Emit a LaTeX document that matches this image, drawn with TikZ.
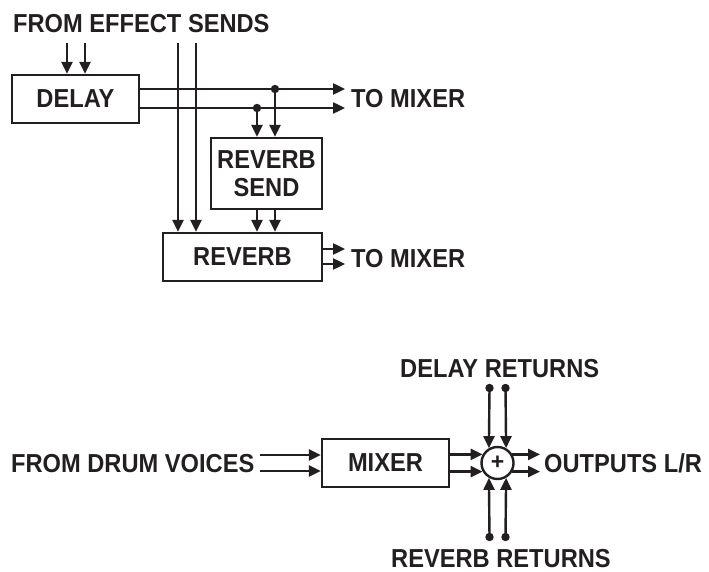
\documentclass[tikz,border=0pt]{standalone}
\usepackage{fontspec}
\setmainfont{Liberation Sans}
\newfontfamily\condfont[FakeStretch=0.91]{Liberation Sans}
\usetikzlibrary{arrows.meta,calc}
\definecolor{ink}{HTML}{231F20}
\begin{document}
\begin{tikzpicture}[x=1pt,y=-1pt,
  line width=2.4pt, draw=ink, text=ink,
  lbl/.style={font=\condfont\fontsize{26}{30}\selectfont\bfseries, inner sep=0pt, anchor=base west},
  blk/.style={draw=ink, line width=2.4pt, font=\condfont\fontsize{26}{30}\selectfont\bfseries, inner sep=0pt, align=center},
  arr/.style={-{Triangle[length=12pt,width=11pt]}},
  dotc/.style={fill=ink}]
\useasboundingbox (0,0) rectangle (709,572);
% labels
\node[lbl] (fes) at (12,33) {FROM EFFECT SENDS};
\node[lbl] (tm1) at (350,108) {TO MIXER};
\node[lbl] (tm2) at (350,267) {TO MIXER};
\node[lbl] (fdv) at (10,472) {FROM DRUM VOICES};
\node[lbl] (olr) at (543,472) {OUTPUTS L/R};
\node[lbl] (drt) at (399,377) {DELAY RETURNS};
\node[lbl] (rrt) at (390,567) {REVERB RETURNS};
% boxes
\node[blk, minimum width=127pt, minimum height=48pt] (delay) at (75.5,99) {DELAY};
\node[blk, minimum width=111pt, minimum height=71pt] (send) at (266.5,173.5) {REVERB\\[-2pt]SEND};
\node[blk, minimum width=159pt, minimum height=48pt] (reverb) at (242.5,257) {REVERB};
\node[blk, minimum width=127pt, minimum height=48pt] (mixer) at (385.5,463) {MIXER};
\node[draw=ink, line width=2.4pt, circle, inner sep=0pt, minimum size=32pt, font=\fontsize{23}{23}\selectfont\bfseries] (sum) at (497.5,463) {+};
% coordinates
\coordinate (di1) at (67,43);
\coordinate (di2) at (85,43);
\coordinate (es1) at (178,43);
\coordinate (es2) at (196,43);
\coordinate (do1) at (345,89);
\coordinate (do2) at (345,108);
\coordinate (d1) at (275,89);
\coordinate (d2) at (257,108);
\coordinate (ro1) at (345,249);
\coordinate (ro2) at (345,264);
\coordinate (fi1) at (260,455);
\coordinate (fi2) at (260,471);
\coordinate (dr1) at (489.5,388);
\coordinate (dr2) at (505.5,388);
\coordinate (rr1) at (489.5,537);
\coordinate (rr2) at (505.5,537);
% top part
\draw[arr] (di1) -- (di1 |- delay.north);
\draw[arr] (di2) -- (di2 |- delay.north);
\draw[arr] (es1) -- (es1 |- reverb.north);
\draw[arr] (es2) -- (es2 |- reverb.north);
\draw[arr] (delay.east |- do1) -- (do1);
\draw[arr] (delay.east |- do2) -- (do2);
\fill[dotc] (d1) circle (4.2pt);
\fill[dotc] (d2) circle (4.2pt);
\draw[arr] (d1) -- (d1 |- send.north);
\draw[arr] (d2) -- (d2 |- send.north);
\draw[arr] (send.south -| d1) -- (reverb.north -| d1);
\draw[arr] (send.south -| d2) -- (reverb.north -| d2);
\draw[arr] (reverb.east |- ro1) -- (ro1);
\draw[arr] (reverb.east |- ro2) -- (ro2);
% bottom part
\draw[arr] (fi1) -- (fi1 -| mixer.west);
\draw[arr] (fi2) -- (fi2 -| mixer.west);
\draw[arr] (mixer.east |- sum.150) -- (sum.150);
\draw[arr] (mixer.east |- sum.210) -- (sum.210);
\coordinate (o1) at (540,0 |- sum.30);
\coordinate (o2) at (540,0 |- sum.-30);
\draw[arr] (sum.30) -- (o1 |- sum.30);
\draw[arr] (sum.-30) -- (o2 |- sum.-30);
\fill[dotc] (dr1) circle (4.2pt);
\fill[dotc] (dr2) circle (4.2pt);
\fill[dotc] (rr1) circle (4.2pt);
\fill[dotc] (rr2) circle (4.2pt);
\draw[arr] (dr1) -- (sum.120);
\draw[arr] (dr2) -- (sum.60);
\draw[arr] (rr1) -- (sum.240);
\draw[arr] (rr2) -- (sum.300);
\end{tikzpicture}
\end{document}
